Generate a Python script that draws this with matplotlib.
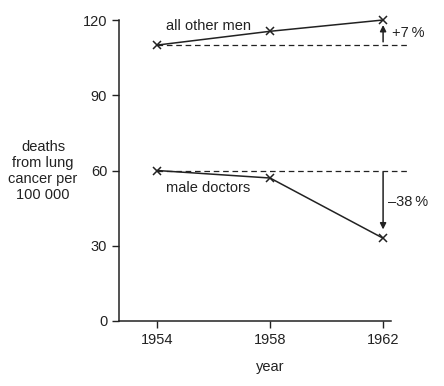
import matplotlib
matplotlib.use("Agg")
import matplotlib.pyplot as plt

years = [1954, 1958, 1962]
other_men = [110, 115.5, 120]
male_doctors = [60, 57, 33]
yticks = [0, 30, 60, 90, 120]
baseline_other = 110
baseline_doctors = 60

plt.rcParams['font.family'] = ['Liberation Sans', 'DejaVu Sans']
FS = 10.5
fig = plt.figure(figsize=(4.44, 3.86), dpi=100)
ax = fig.add_axes([119/444, 65/386, 272/444, 301/386])

ax.plot(years, other_men, color='#222222', lw=1.1, marker='x', ms=6, mew=1.1, clip_on=False)
ax.plot(years, male_doctors, color='#222222', lw=1.1, marker='x', ms=6, mew=1.1, clip_on=False)

ax.plot([years[0], 1962.87], [baseline_other, baseline_other], ls=(0, (4.5, 3)), color='#222222', lw=0.9, clip_on=False, zorder=1)
ax.plot([years[0], 1962.87], [baseline_doctors, baseline_doctors], ls=(0, (4.5, 3)), color='#222222', lw=0.9, clip_on=False, zorder=1)

ax.annotate('', xy=(1962, 118), xytext=(1962, 111.3),
            arrowprops=dict(arrowstyle='-|>', color='#222222', lw=1.1, mutation_scale=9, shrinkA=0, shrinkB=0),
            annotation_clip=False)
ax.annotate('', xy=(1962, 36.5), xytext=(1962, 59.3),
            arrowprops=dict(arrowstyle='-|>', color='#222222', lw=1.1, mutation_scale=9, shrinkA=0, shrinkB=0),
            annotation_clip=False)

ax.text(1962.3, 115, '+7\u2009%', fontsize=FS, va='center', ha='left', color='#222222')
ax.text(1962.17, 47.5, '\u201338\u2009%', fontsize=FS, va='center', ha='left', color='#222222')
ax.text(1954.32, 117.5, 'all other men', fontsize=FS, va='center', ha='left', color='#222222')
ax.text(1954.32, 53, 'male doctors', fontsize=FS, va='center', ha='left', color='#222222')

ax.set_xlim(1952.65, 1962.28)
ax.set_ylim(0, 120)
ax.set_xticks(years)
ax.set_yticks(yticks)
ax.tick_params(labelsize=FS, length=5, width=1, colors='#222222', direction='out')
for s in ['top', 'right']:
    ax.spines[s].set_visible(False)
for s in ['left', 'bottom']:
    ax.spines[s].set_linewidth(1.1)
    ax.spines[s].set_color('#222222')

fig.text(270/444, 1 - 367/386, 'year', fontsize=FS, ha='center', va='center', color='#222222')
fig.text(43/444, 1 - 171/386, 'deaths\nfrom lung\ncancer per\n100 000', fontsize=FS,
         ha='center', va='center', color='#222222', linespacing=1.2)

fig.savefig('out.png', dpi=100)
